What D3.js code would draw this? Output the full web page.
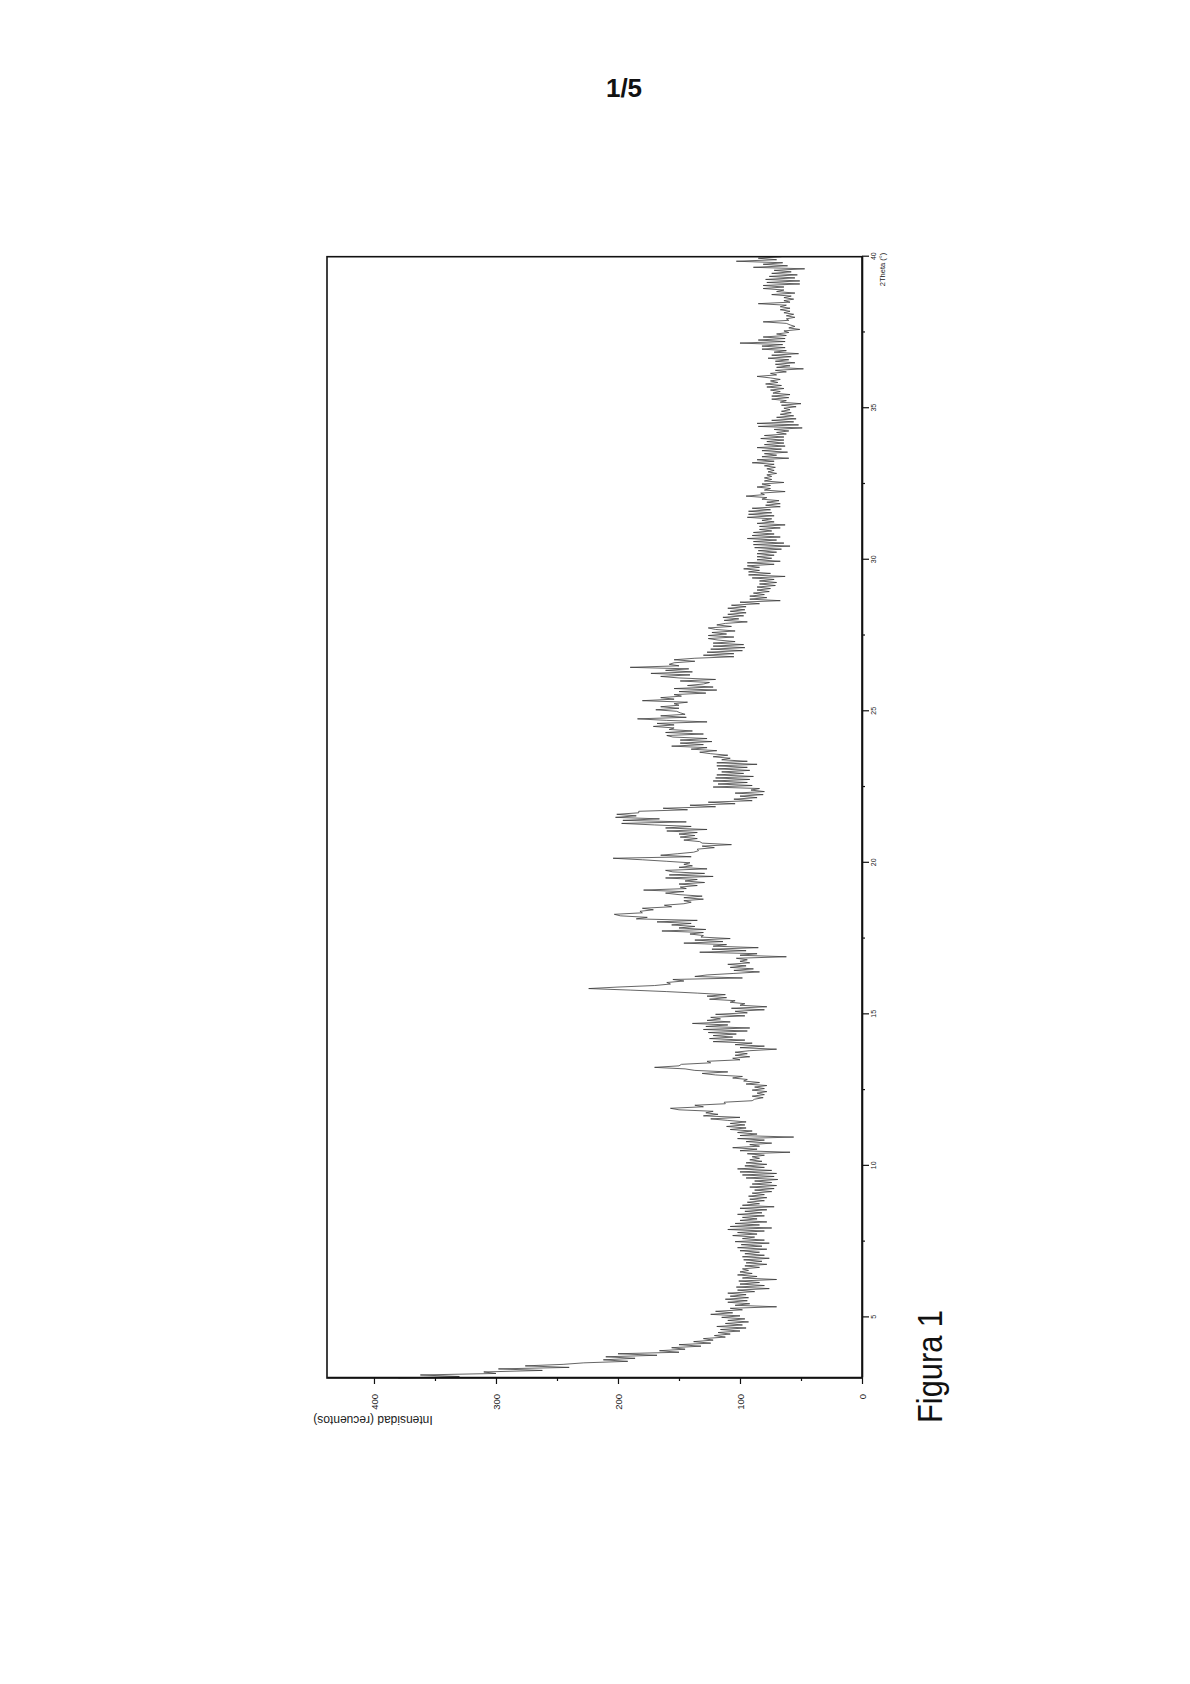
<!DOCTYPE html>
<html><head><meta charset="utf-8">
<script src="https://cdn.jsdelivr.net/npm/d3@7"></script>
<style>body{margin:0;background:#fff}svg{display:block}</style>
</head><body>
<svg id="c" width="1190" height="1684"></svg>
<script>
const pageLabel = "1/5";
const figureLabel = "Figura 1";
const xAxisTitle = "2Theta (°)";
const yAxisTitle = "Intensidad (recuentos)";
const twoThetaStart = 3, twoThetaStep = 0.05;
const xDomain = [3, 40];
const yDomain = [0, 438.5];
const xMajorTicks = [5, 10, 15, 20, 25, 30, 35, 40];
const xMinorTicks = [7.5, 12.5, 17.5, 22.5, 27.5, 32.5, 37.5];
const yMajorTicks = [0, 100, 200, 300, 400];
const yMinorTicks = [50, 150, 250, 350];

const counts_03_10 = [
380,330,362,300,310,262,298,240,276,245,228,192,212,186,210,168,200,150,166,145,
156,132,150,124,138,122,130,112,121,108,118,100,116,95,119,98,112,93,110,96,
115,100,124,106,120,98,108,70,104,92,110,94,112,93,108,95,110,88,102,76,
103,80,100,84,101,70,98,86,102,90,100,93,98,84,96,78,95,82,97,76,
98,80,96,84,100,78,102,82,99,76,104,80,98,88,106,86,102,80,110,74,
108,84,104,78,100,86,98,80,102,82,96,78,100,72,98,84,94,80,92,78,
93,80,90,74,88,72,92,70,90,74,88,69,95,72,98,70,100,74,102,80];
const counts_10_15 = [
96,78,95,82,92,84,90,80,94,59,100,86,106,84,92,74,95,80,102,56,
100,86,102,90,108,95,111,96,108,95,110,124,100,130,118,128,122,150,157,130,
137,112,113,90,88,81,90,80,86,78,90,80,88,78,95,84,97,94,106,98,
120,131,110,137,145,170,150,148,124,127,100,106,92,104,94,104,92,70,100,80,
104,90,122,96,125,106,122,103,126,94,130,92,128,110,139,108,127,116,124,96];
const counts_15_20 = [
120,94,104,80,107,78,100,96,108,104,125,111,127,112,135,160,190,224,200,170,
157,160,146,155,98,137,127,105,84,105,89,108,95,110,92,100,94,103,62,100,
86,133,95,123,85,122,111,146,114,137,108,132,130,141,130,164,128,150,137,156,
140,168,135,185,176,198,203,180,182,171,180,156,162,146,140,146,130,146,131,150,
161,146,179,144,149,135,150,129,145,135,161,122,158,129,155,161,127,150,139,146];
const counts_20_25 = [
141,160,180,204,140,165,151,138,134,135,121,131,107,131,133,146,135,149,137,150,
135,160,127,161,140,170,197,144,196,166,202,185,201,183,183,143,163,120,141,104,
126,90,105,86,100,81,104,80,91,84,122,90,118,94,122,92,120,89,119,97,
115,92,118,94,119,86,119,94,115,108,122,110,124,133,119,140,127,156,130,149,
123,149,127,155,160,130,161,139,158,154,171,154,168,127,160,184,144,165,145,149];
const counts_25_30 = [
152,169,150,165,150,154,143,180,154,165,148,154,128,150,119,154,122,143,130,125,
149,120,150,165,141,173,139,161,142,190,150,158,154,137,154,137,105,130,105,127,
98,124,96,122,97,122,104,118,126,105,126,111,123,104,120,126,107,119,112,94,
113,101,114,97,110,95,108,96,110,95,107,84,100,67,92,78,92,80,89,76,
86,75,86,71,84,70,84,72,90,63,93,75,93,84,97,84,94,72,94,67];
const counts_30_35 = [
86,74,86,72,86,70,85,66,88,59,89,64,89,70,94,67,90,72,89,74,
84,67,84,63,86,72,82,74,94,72,93,74,93,75,90,67,79,67,78,68,
82,78,95,80,83,63,80,75,86,75,82,64,80,74,80,74,78,70,77,72,
78,71,80,72,90,72,86,60,82,70,80,61,82,66,86,63,80,64,78,64,
83,64,80,62,70,60,72,49,85,52,86,56,74,54,70,56,67,58,66,59];
const counts_35_40 = [
64,54,66,50,67,62,74,60,74,59,73,67,75,64,78,66,79,69,75,67,
75,86,70,75,62,71,48,70,59,71,55,71,60,77,58,74,52,72,62,82,
63,82,65,100,63,85,63,81,62,70,60,64,51,60,55,59,62,81,60,62,
55,62,56,64,59,67,59,67,62,85,59,64,56,64,58,74,55,70,64,81,
64,81,51,78,51,79,55,76,53,74,58,72,47,89,61,81,65,103,70,85,
66];

const counts = [].concat(counts_03_10, counts_10_15, counts_15_20, counts_20_25,
                         counts_25_30, counts_30_35, counts_35_40);
const data = counts.map((c, i) => ({ t: twoThetaStart + i * twoThetaStep, c }));

const FONT = "'Liberation Sans', Arial, Helvetica, sans-serif";
const svg = d3.select("#c");
svg.append("rect").attr("width", 1190).attr("height", 1684).attr("fill", "#fff");

// page number
svg.append("text").attr("x", 624).attr("y", 97).attr("text-anchor", "middle")
  .attr("font-family", FONT).attr("font-weight", "bold").attr("font-size", 26)
  .attr("fill", "#111").text(pageLabel);

// figure caption (rotated)
svg.append("text").attr("transform", "translate(942,1423) rotate(-90) scale(0.88,1)")
  .attr("font-family", FONT).attr("font-size", 35).attr("fill", "#111").text(figureLabel);

// chart, drawn in its own frame and rotated 90° counter-clockwise
const PL = 327, PR = 862, PT = 256.7, PB = 1378;
const W = PB - PT, H = PR - PL;
const g = svg.append("g").attr("transform", `translate(${PL},${PB}) rotate(-90)`);
const x = d3.scaleLinear().domain(xDomain).range([0, W]);
const y = d3.scaleLinear().domain(yDomain).range([H, 0]);

g.append("path").datum(data)
  .attr("d", d3.line().x(d => x(d.t)).y(d => y(d.c)))
  .attr("fill", "none").attr("stroke", "#333").attr("stroke-width", 0.75);

g.append("rect").attr("x", 0).attr("y", 0).attr("width", W).attr("height", H)
  .attr("fill", "none").attr("stroke", "#111").attr("stroke-width", 1.6);

function styleAxis(sel, fs) {
  sel.select(".domain").attr("stroke", "#111").attr("stroke-width", 1.6);
  sel.selectAll(".tick line").attr("stroke", "#111").attr("stroke-width", 1.2);
  sel.selectAll(".tick text").attr("font-family", FONT).attr("font-size", fs).attr("fill", "#222");
}

const gx = g.append("g").attr("transform", `translate(0,${H})`)
  .call(d3.axisBottom(x).tickValues(xMajorTicks).tickSize(7).tickSizeOuter(0).tickPadding(2).tickFormat(d3.format("d")));
styleAxis(gx, 7);
const gxm = g.append("g").attr("transform", `translate(0,${H})`)
  .call(d3.axisBottom(x).tickValues(xMinorTicks).tickSize(3).tickSizeOuter(0).tickFormat(""));
gxm.select(".domain").remove();
gxm.selectAll(".tick line").attr("stroke", "#111").attr("stroke-width", 1.2);

const gy = g.append("g")
  .call(d3.axisLeft(y).tickValues(yMajorTicks).tickSize(6).tickSizeOuter(0).tickPadding(10).tickFormat(d3.format("d")));
styleAxis(gy, 9.5);
const gym = g.append("g")
  .call(d3.axisLeft(y).tickValues(yMinorTicks).tickSize(3).tickSizeOuter(0).tickFormat(""));
gym.select(".domain").remove();
gym.selectAll(".tick line").attr("stroke", "#111").attr("stroke-width", 1.2);

// axis titles
g.append("text").attr("x", W + 4).attr("y", H + 23).attr("text-anchor", "end")
  .attr("font-family", FONT).attr("font-size", 7.5).attr("fill", "#222").text(xAxisTitle);
g.append("text").attr("transform", `translate(-37.5,46) rotate(-90)`).attr("text-anchor", "middle")
  .attr("font-family", FONT).attr("font-size", 12).attr("fill", "#222").text(yAxisTitle);
</script>
</body></html>
